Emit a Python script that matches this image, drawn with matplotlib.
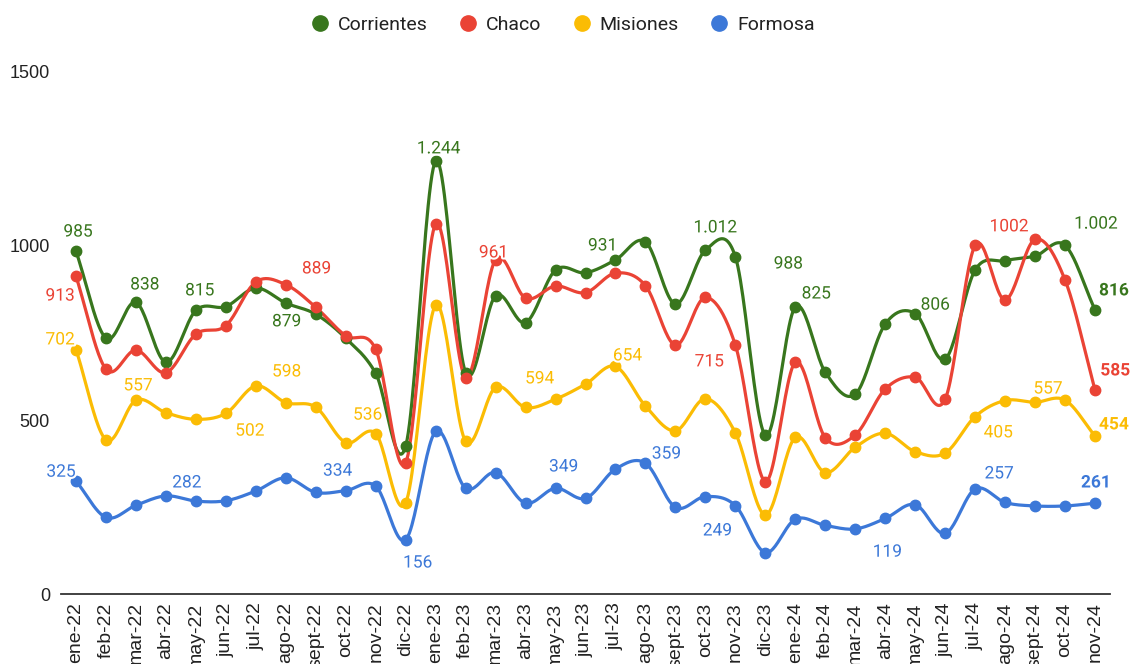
import numpy as np
import matplotlib.pyplot as plt
import matplotlib.patheffects as pe
from matplotlib.lines import Line2D

plt.rcParams['font.family'] = ['Roboto', 'DejaVu Sans']

# ----------------------------
# Data
# ----------------------------
months = ['ene-22', 'feb-22', 'mar-22', 'abr-22', 'may-22', 'jun-22', 'jul-22', 'ago-22',
          'sept-22', 'oct-22', 'nov-22', 'dic-22', 'ene-23', 'feb-23', 'mar-23', 'abr-23',
          'may-23', 'jun-23', 'jul-23', 'ago-23', 'sept-23', 'oct-23', 'nov-23', 'dic-23',
          'ene-24', 'feb-24', 'mar-24', 'abr-24', 'may-24', 'jun-24', 'jul-24', 'ago-24',
          'sept-24', 'oct-24', 'nov-24']

corrientes = [985, 735, 838, 666, 815, 826, 879, 836, 804, 735, 634, 425, 1244, 636, 857, 780,
              931, 923, 960, 1012, 833, 988, 969, 456, 825, 637, 574, 776, 806, 675, 931, 958,
              971, 1002, 816]
chaco = [913, 646, 701, 636, 747, 771, 897, 889, 824, 742, 703, 377, 1063, 622, 961, 850,
         885, 866, 922, 886, 715, 852, 715, 323, 666, 449, 457, 589, 623, 560, 1002, 845,
         1019, 902, 585]
misiones = [702, 443, 557, 521, 502, 519, 598, 550, 537, 435, 461, 262, 830, 439, 594, 536,
            560, 603, 654, 540, 469, 561, 463, 227, 450, 349, 422, 462, 409, 405, 510, 556,
            551, 557, 454]
formosa = [325, 220, 255, 282, 267, 268, 296, 334, 292, 297, 310, 156, 467, 304, 349, 261,
           304, 275, 359, 376, 249, 280, 254, 119, 215, 197, 187, 217, 257, 174, 302, 263,
           253, 253, 261]

series_names = ['Corrientes', 'Chaco', 'Misiones', 'Formosa']
colors = ['#38761d', '#ea4335', '#fbbc04', '#3c78d8']

# custom data labels: (text, x position in categories, y position in values, bold)
labels_corrientes = [('985', 0.07, 1040, False), ('838', 2.3, 888, False), ('815', 4.13, 871, False),
                     ('879', 7.03, 782, False), ('1.244', 12.1, 1279, False), ('931', 17.57, 1000, False),
                     ('1.012', 21.33, 1052, False), ('988', 23.77, 948, False), ('825', 24.7, 862, False),
                     ('806', 28.67, 830, False), ('1.002', 34.03, 1063, False), ('816', 34.63, 871, True)]
labels_chaco = [('913', -0.53, 856, False), ('889', 8.03, 934, False), ('961', 13.93, 980, False),
                ('715', 21.13, 667, False), ('1002', 31.13, 1055, False), ('585', 34.67, 641, True)]
labels_misiones = [('702', -0.53, 730, False), ('557', 2.07, 598, False), ('502', 5.8, 468, False),
                   ('598', 7.03, 638, False), ('536', 9.73, 514, False), ('594', 15.47, 618, False),
                   ('654', 18.4, 684, False), ('405', 30.77, 463, False), ('557', 32.43, 589, False),
                   ('454', 34.63, 486, True)]
labels_formosa = [('325', -0.5, 350, False), ('282', 3.7, 319, False), ('334', 8.73, 353, False),
                  ('156', 11.4, 89, False), ('349', 16.27, 365, False), ('359', 19.7, 402, False),
                  ('249', 21.4, 181, False), ('119', 27.07, 120, False), ('257', 30.8, 345, False),
                  ('261', 34.03, 319, True)]


# ----------------------------
# Smooth curve through points (cubic Hermite / Catmull-Rom)
# ----------------------------
def smooth_curve(values, n=24):
    y = np.asarray(values, dtype=float)
    x = np.arange(len(y), dtype=float)
    m = np.empty_like(y)
    m[1:-1] = (y[2:] - y[:-2]) / 2
    m[0] = y[1] - y[0]
    m[-1] = y[-1] - y[-2]
    t = np.linspace(0, 1, n, endpoint=False)
    h00 = 2 * t**3 - 3 * t**2 + 1
    h10 = t**3 - 2 * t**2 + t
    h01 = -2 * t**3 + 3 * t**2
    h11 = t**3 - t**2
    xs, ys = [], []
    for i in range(len(y) - 1):
        xs.append(x[i] + t)
        ys.append(h00 * y[i] + h10 * m[i] + h01 * y[i + 1] + h11 * m[i + 1])
    xs.append([x[-1]])
    ys.append([y[-1]])
    return np.concatenate(xs), np.concatenate(ys)


fig = plt.figure(figsize=(11.32, 6.64), dpi=100)
ax = fig.add_axes([0.0539, 0.1054, 0.9267, 0.7862])

all_series = [corrientes, chaco, misiones, formosa]
all_labels = [labels_corrientes, labels_chaco, labels_misiones, labels_formosa]
x = np.arange(len(months))

for vals, col in zip(all_series, colors):
    sx, sy = smooth_curve(vals)
    ax.plot(sx, sy, color=col, lw=2.3, solid_capstyle='round', zorder=3)
    ax.plot(x, vals, 'o', color=col, ms=7.5, zorder=4)

halo = [pe.withStroke(linewidth=3, foreground='white')]
for labs, col in zip(all_labels, colors):
    for txt, lx, ly, bold in labs:
        ax.text(lx, ly, txt, color=col, fontsize=12.5, ha='center', va='center',
                fontweight='bold' if bold else 'normal', path_effects=halo,
                zorder=6, clip_on=False)

ax.set_xlim(-0.5, len(months) - 0.5)
ax.set_ylim(0, 1500)
ax.set_yticks([0, 500, 1000, 1500])
ax.set_xticks(x)
ax.set_xticklabels(months, rotation=90, fontsize=14, color='#222222',
                   family=['Liberation Sans', 'DejaVu Sans'])
for lab in ax.get_yticklabels():
    lab.set_family(['Liberation Sans', 'DejaVu Sans'])
ax.tick_params(axis='y', length=0, pad=8, labelsize=13, labelcolor='#222222')
ax.tick_params(axis='x', length=0, pad=6)
for s in ['top', 'right', 'left']:
    ax.spines[s].set_visible(False)
ax.spines['bottom'].set_color('#333333')
ax.spines['bottom'].set_linewidth(1.3)

handles = [Line2D([], [], marker='o', ls='', color=c, ms=11) for c in colors]
fig.legend(handles, series_names, loc='center', bbox_to_anchor=(0.496, 0.962), ncol=4,
           frameon=False, fontsize=14, handletextpad=0.3, columnspacing=1.5,
           handlelength=1.2, labelcolor='#222222')

fig.savefig('out.png', dpi=100)
